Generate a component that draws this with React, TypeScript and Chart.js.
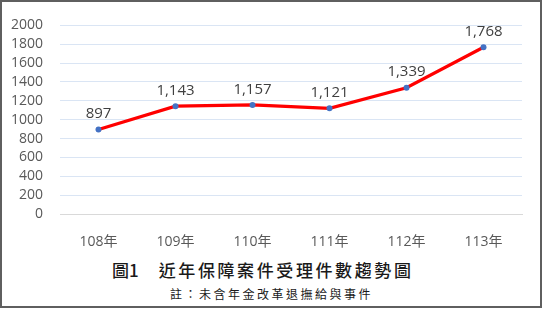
import React, { useEffect, useRef } from "react";
import { Chart, registerables } from "chart.js";

Chart.register(...registerables);

const categories: string[] = ["108年", "109年", "110年", "111年", "112年", "113年"];
const caseCounts: number[] = [897, 1143, 1157, 1121, 1339, 1768];
const yMin = 0;
const yMax = 2000;
const yStep = 200;
const titleLabel = "圖1";
const titleText = "近年保障案件受理件數趨勢圖";
const noteText = "註：未含年金改革退撫給與事件";

const FONT = "'Open Sans', 'Noto Sans CJK TC', sans-serif";

const dataLabelPlugin = {
  id: "dataLabels",
  afterDatasetsDraw(chart: any) {
    const ctx = chart.ctx;
    const meta = chart.getDatasetMeta(0);
    ctx.save();
    ctx.font = `15px ${FONT}`;
    ctx.fillStyle = "#404040";
    ctx.textAlign = "center";
    ctx.textBaseline = "middle";
    meta.data.forEach((pt: any, i: number) => {
      const v = chart.data.datasets[0].data[i] as number;
      ctx.fillText(v.toLocaleString("en-US"), pt.x, pt.y - 15.5);
    });
    ctx.restore();
  },
};

export default function App() {
  const canvasRef = useRef<HTMLCanvasElement | null>(null);

  useEffect(() => {
    document.body.style.margin = "0";
    const canvas = canvasRef.current;
    if (!canvas) return;
    const chart = new Chart(canvas, {
      type: "line",
      data: {
        labels: categories,
        datasets: [
          {
            data: caseCounts,
            borderColor: "#FF0000",
            borderWidth: 3.2,
            pointBackgroundColor: "#4472C4",
            pointBorderColor: "#4472C4",
            pointRadius: 3,
            pointBorderWidth: 0,
            tension: 0,
          },
        ],
      },
      options: {
        responsive: false,
        animation: false,
        layout: { padding: { top: 17, right: 21, left: 0, bottom: 0 } },
        plugins: {
          legend: { display: false },
          tooltip: { enabled: false },
          title: { display: false },
        },
        scales: {
          x: {
            offset: true,
            grid: { display: false },
            border: { display: true, color: "#d9d9d9", width: 1 },
            ticks: {
              color: "#595959",
              font: { family: FONT, size: 14 },
              padding: 12,
            },
            afterFit: (s: any) => {
              s.height = 36;
            },
          },
          y: {
            min: yMin,
            max: yMax,
            border: { display: false },
            grid: {
              drawTicks: false,
              color: (c: any) => (c.tick && c.tick.value === 0 ? "#d9d9d9" : "#dae5f4"),
              lineWidth: 1,
            },
            ticks: {
              stepSize: yStep,
              autoSkip: false,
              color: "#595959",
              font: { family: FONT, size: 14 },
              padding: 17,
              callback: (v: any) => String(v),
            },
            afterFit: (s: any) => {
              s.width = 60;
            },
          },
        },
      },
      plugins: [dataLabelPlugin],
    });
    return () => chart.destroy();
  }, []);

  return (
    <div
      style={{
        position: "absolute",
        left: 0,
        top: 0,
        width: 543,
        height: 309,
        background: "#ffffff",
        overflow: "hidden",
      }}
    >
      <div
        style={{
          position: "absolute",
          left: 0,
          top: 0,
          width: 542,
          height: 308,
          boxSizing: "border-box",
          border: "2px solid #5f5f5f",
        }}
      />
      <canvas
        ref={canvasRef}
        width={543}
        height={250}
        style={{ position: "absolute", left: 0, top: 0, width: 543, height: 250 }}
      />
      <div
        style={{
          position: "absolute",
          left: 112,
          top: 259,
          whiteSpace: "nowrap",
          fontFamily: "'Noto Sans CJK TC', serif",
          fontSize: 17,
          fontWeight: 500,
          lineHeight: "22px",
          color: "#1a1a1a",
        }}
      >
        <span>{titleLabel}</span>
        <span style={{ marginLeft: 20, letterSpacing: 2.6 }}>{titleText}</span>
      </div>
      <div
        style={{
          position: "absolute",
          left: 170,
          top: 286,
          whiteSpace: "nowrap",
          fontFamily: "'Noto Sans CJK TC', serif",
          fontSize: 12,
          lineHeight: "16px",
          letterSpacing: 2.5,
          color: "#1a1a1a",
        }}
      >
        {noteText}
      </div>
    </div>
  );
}
